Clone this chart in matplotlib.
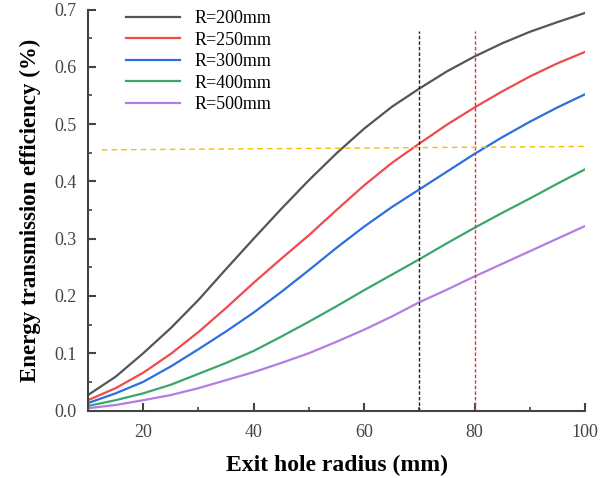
import matplotlib
matplotlib.use("Agg")
import matplotlib.pyplot as plt
from matplotlib.ticker import MultipleLocator

radius = [10, 15, 20, 25, 30, 35, 40, 45, 50, 55, 60, 65, 70, 75, 80, 85, 90, 95, 100]
eff_200 = [0.027, 0.059, 0.100, 0.144, 0.193, 0.247, 0.300, 0.352, 0.402, 0.449, 0.492, 0.530, 0.562, 0.592, 0.618, 0.641, 0.661, 0.678, 0.694]
eff_250 = [0.018, 0.039, 0.066, 0.099, 0.137, 0.179, 0.223, 0.265, 0.306, 0.350, 0.393, 0.432, 0.466, 0.499, 0.529, 0.557, 0.583, 0.606, 0.626]
eff_300 = [0.013, 0.030, 0.050, 0.077, 0.107, 0.138, 0.171, 0.207, 0.245, 0.284, 0.321, 0.355, 0.386, 0.417, 0.448, 0.477, 0.504, 0.529, 0.552]
eff_400 = [0.008, 0.018, 0.030, 0.045, 0.064, 0.083, 0.104, 0.129, 0.155, 0.182, 0.210, 0.237, 0.264, 0.292, 0.319, 0.345, 0.370, 0.396, 0.421]
eff_500 = [0.004, 0.0096, 0.018, 0.027, 0.039, 0.053, 0.067, 0.083, 0.100, 0.120, 0.141, 0.164, 0.189, 0.211, 0.234, 0.256, 0.278, 0.300, 0.322]
labels = ["R=200mm", "R=250mm", "R=300mm", "R=400mm", "R=500mm"]
colors = ["#555555", "#f04a4f", "#2d6fdf", "#3aa66c", "#b47de3"]

ref_x = [70, 80]
ref_top = 0.662
ref_colors = ["#222222", "#f03030"]
yellow_x = [12.5, 100.5]
yellow_y = [0.455, 0.461]

fig = plt.figure(figsize=(6.13, 4.78), dpi=100)
ax = fig.add_axes([0.1436, 0.1412, 0.8107, 0.8389])

for ys, lab, c in zip([eff_200, eff_250, eff_300, eff_400, eff_500], labels, colors):
    ax.plot(radius, ys, color=c, lw=1.6, label=lab, solid_joinstyle="round")

for xv, c in zip(ref_x, ref_colors):
    ax.plot([xv, xv], [0, ref_top], color=c, lw=1.0, ls=(0, (2.5, 1.5)))
ax.plot(yellow_x, yellow_y, color="#f2c200", lw=1.0, ls=(0, (4, 3)), clip_on=False)

ax.set_xlim(10, 100)
ax.set_ylim(0, 0.7)
ax.xaxis.set_major_locator(MultipleLocator(20))
ax.xaxis.set_minor_locator(MultipleLocator(10))
ax.set_yticks([0, 0.1, 0.2, 0.3, 0.4, 0.5, 0.6, 0.7])
ax.set_yticklabels(["0.0", "0.1", "0.2", "0.3", "0.4", "0.5", "0.6", "0.7"])
ax.yaxis.set_minor_locator(MultipleLocator(0.05))

for s in ["top", "right"]:
    ax.spines[s].set_visible(False)
for s in ["left", "bottom"]:
    ax.spines[s].set_color("#444444")
    ax.spines[s].set_linewidth(1.5)

ax.tick_params(which="major", direction="in", length=6, width=1.5, color="#444444",
               labelsize=13, labelcolor="#444444", pad=8)
ax.tick_params(which="minor", direction="in", length=3, width=1.2, color="#444444")
ax.tick_params(axis="x", pad=10)
for t in ax.get_xticklabels() + ax.get_yticklabels():
    t.set_fontfamily("Liberation Serif")

ax.set_xlabel("Exit hole radius (mm)", fontsize=17, fontweight="bold",
              fontfamily="Liberation Serif", labelpad=10)
ax.set_ylabel("Energy transmission efficiency (%)", fontsize=16.5, fontweight="bold",
              fontfamily="Liberation Serif", labelpad=10)

leg = ax.legend(loc="upper left", bbox_to_anchor=(0.05, 1.03), frameon=False,
                prop={"family": "Liberation Serif", "size": 13},
                handlelength=3.0, labelspacing=0.25, handletextpad=0.8, borderpad=0.2)

fig.savefig("out.png", dpi=100)
